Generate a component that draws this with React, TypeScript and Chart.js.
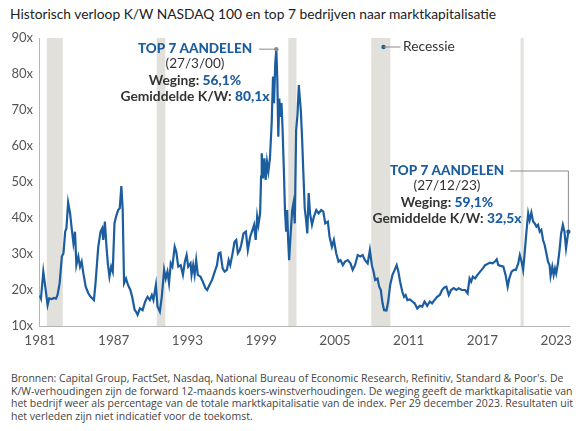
import React, { useEffect, useRef } from "react";
import { Chart, registerables } from "chart.js";

Chart.register(...registerables);

const years: number[] = [
  1981.0, 1981.08, 1981.27, 1981.43, 1981.62, 1981.75, 1981.95, 1982.15, 1982.3, 1982.43,
  1982.6, 1982.78, 1982.91, 1983.05, 1983.15, 1983.29, 1983.45, 1983.58, 1983.72, 1983.85,
  1983.96, 1984.12, 1984.26, 1984.39, 1984.53, 1984.72, 1984.93, 1985.12, 1985.39, 1985.52,
  1985.74, 1985.93, 1986.06, 1986.15, 1986.28, 1986.41, 1986.52, 1986.65, 1986.79, 1986.92,
  1987.06, 1987.19, 1987.36, 1987.49, 1987.62, 1987.73, 1987.84, 1988.0, 1988.16, 1988.35,
  1988.5, 1988.7, 1988.81, 1988.94, 1989.13, 1989.35, 1989.56, 1989.75, 1989.94, 1990.1,
  1990.23, 1990.43, 1990.56, 1990.75, 1990.91, 1991.1, 1991.23, 1991.37, 1991.5, 1991.64,
  1991.77, 1991.96, 1992.09, 1992.25, 1992.45, 1992.63, 1992.79, 1992.93, 1993.06, 1993.25,
  1993.33, 1993.46, 1993.58, 1993.71, 1993.84, 1994.06, 1994.25, 1994.46, 1994.6, 1994.79,
  1995.0, 1995.22, 1995.4, 1995.54, 1995.68, 1995.86, 1996.02, 1996.21, 1996.35, 1996.48,
  1996.67, 1996.83, 1996.97, 1997.1, 1997.25, 1997.37, 1997.56, 1997.75, 1997.91, 1998.1,
  1998.29, 1998.42, 1998.55, 1998.67, 1998.77, 1998.91, 1998.99, 1999.04, 1999.15, 1999.26,
  1999.36, 1999.47, 1999.58, 1999.71, 1999.85, 1999.96, 2000.04, 2000.14, 2000.23, 2000.31,
  2000.39, 2000.47, 2000.55, 2000.65, 2000.73, 2000.85, 2000.93, 2001.03, 2001.11, 2001.19,
  2001.27, 2001.38, 2001.52, 2001.62, 2001.73, 2001.84, 2001.95, 2002.06, 2002.14, 2002.22,
  2002.33, 2002.43, 2002.54, 2002.65, 2002.75, 2002.86, 2002.97, 2003.13, 2003.29, 2003.48,
  2003.67, 2003.88, 2004.05, 2004.21, 2004.42, 2004.56, 2004.75, 2004.91, 2005.1, 2005.29,
  2005.45, 2005.64, 2005.82, 2006.04, 2006.26, 2006.44, 2006.63, 2006.85, 2007.07, 2007.25,
  2007.44, 2007.66, 2007.84, 2008.0, 2008.14, 2008.27, 2008.46, 2008.6, 2008.73, 2008.87,
  2009.0, 2009.19, 2009.33, 2009.49, 2009.68, 2009.86, 2010.02, 2010.16, 2010.3, 2010.48,
  2010.62, 2010.75, 2010.89, 2011.1, 2011.29, 2011.48, 2011.69, 2011.91, 2012.1, 2012.29,
  2012.5, 2012.72, 2012.9, 2013.09, 2013.31, 2013.53, 2013.71, 2013.9, 2014.06, 2014.26,
  2014.44, 2014.66, 2014.87, 2015.06, 2015.33, 2015.6, 2015.79, 2015.95, 2016.08, 2016.22,
  2016.4, 2016.6, 2016.81, 2017.03, 2017.21, 2017.4, 2017.62, 2017.83, 2018.02, 2018.16,
  2018.29, 2018.48, 2018.7, 2018.88, 2019.05, 2019.18, 2019.37, 2019.56, 2019.72, 2019.91,
  2020.04, 2020.18, 2020.31, 2020.44, 2020.58, 2020.72, 2020.84, 2020.98, 2021.12, 2021.25,
  2021.39, 2021.52, 2021.66, 2021.79, 2021.93, 2022.06, 2022.2, 2022.33, 2022.46, 2022.54,
  2022.68, 2022.79, 2022.9, 2023.0, 2023.14, 2023.27, 2023.4, 2023.54, 2023.67, 2023.8,
  2023.93, 2023.99,
];

const peRatios: number[] = [
  18.5, 17.7, 25.1, 20.9, 15.8, 17.7, 17.5, 17.8, 17.6, 18.6,
  21.9, 29.3, 30.2, 36.2, 37.1, 44.3, 41.3, 37.1, 33.0, 36.2,
  26.9, 29.3, 26.5, 27.9, 24.6, 20.9, 19.1, 18.1, 17.2, 21.9,
  32.0, 36.2, 37.1, 33.9, 39.0, 32.0, 27.4, 23.7, 26.5, 25.1,
  38.5, 40.4, 42.2, 42.7, 48.9, 42.2, 21.9, 23.2, 21.4, 20.0,
  18.1, 14.5, 14.0, 13.1, 14.9, 14.4, 16.8, 18.1, 17.2, 18.6,
  17.2, 21.4, 15.4, 14.0, 18.1, 25.6, 23.2, 25.1, 21.9, 27.4,
  26.5, 32.0, 30.6, 26.5, 26.9, 24.2, 27.9, 29.7, 26.5, 27.4,
  24.2, 26.9, 24.2, 28.3, 24.2, 23.7, 22.3, 20.5, 20.0, 21.4,
  22.8, 25.1, 26.9, 30.2, 30.4, 26.0, 25.1, 25.6, 28.3, 26.9,
  30.2, 33.4, 33.9, 30.2, 31.0, 32.5, 35.7, 36.2, 31.1, 34.8,
  36.7, 38.1, 33.9, 40.4, 38.1, 41.3, 51.5, 58.0, 51.0, 56.6,
  50.6, 55.6, 52.9, 56.6, 66.3, 79.3, 71.9, 83.0, 86.9, 78.3,
  62.6, 73.2, 68.1, 71.9, 65.4, 52.4, 42.2, 36.2, 42.2, 33.9,
  28.3, 34.8, 42.2, 44.1, 38.5, 64.4, 68.6, 76.9, 73.2, 70.0,
  61.7, 52.4, 42.7, 39.4, 35.7, 46.9, 41.3, 38.1, 40.4, 42.2,
  41.3, 42.2, 41.8, 38.5, 39.0, 34.8, 32.0, 33.9, 30.2, 27.9,
  28.3, 26.9, 27.9, 28.3, 27.4, 25.6, 26.9, 29.7, 29.3, 29.7,
  28.3, 27.4, 31.1, 26.9, 25.1, 22.8, 23.2, 20.9, 20.0, 16.3,
  14.4, 14.3, 16.8, 21.4, 24.2, 25.6, 26.9, 25.1, 22.3, 19.5,
  18.1, 18.6, 17.2, 17.4, 16.8, 16.3, 14.9, 15.6, 15.4, 16.8,
  15.6, 16.8, 16.3, 17.2, 18.1, 18.6, 20.0, 20.7, 20.9, 18.6,
  20.0, 20.5, 20.0, 20.5, 20.0, 20.0, 19.1, 23.2, 22.3, 23.7,
  23.2, 24.2, 25.1, 26.0, 26.9, 27.2, 27.6, 27.4, 27.9, 28.5,
  26.9, 26.7, 26.5, 24.2, 20.9, 23.2, 25.1, 25.6, 25.6, 27.4,
  29.7, 27.9, 25.6, 30.6, 36.2, 41.3, 39.4, 41.5, 39.0, 38.5,
  37.6, 38.1, 36.2, 36.7, 33.9, 32.5, 30.2, 27.9, 26.9, 23.9,
  26.5, 24.2, 26.0, 24.6, 27.4, 31.1, 35.7, 38.1, 36.2, 31.6,
  34.8, 36.2,
];

const tickYears: number[] = [1981, 1987, 1993, 1999, 2005, 2011, 2017, 2023];

const recessionStarts: number[] = [1981.55, 1990.5, 2001.2, 2007.95, 2020.1];
const recessionEnds: number[] = [1982.85, 1991.2, 2001.87, 2009.5, 2020.35];

const peak2000 = { x: 2000.23, y: 86.9 };
const end2023 = { x: 2023.99, y: 36.2 };

const BLUE = "#1b5d9e";
const DARK = "#333333";
const GREYLINE = "#8a8a8a";
const FONT = "Lato, 'Open Sans', sans-serif";

const title = "Historisch verloop K/W NASDAQ 100 en top 7 bedrijven naar marktkapitalisatie";
const footerLines: string[] = [
  "Bronnen: Capital Group, FactSet, Nasdaq, National Bureau of Economic Research, Refinitiv, Standard & Poor's. De",
  "K/W-verhoudingen zijn de forward 12-maands koers-winstverhoudingen. De weging geeft de marktkapitalisatie van",
  "het bedrijf weer als percentage van de totale marktkapitalisatie van de index. Per 29 december 2023. Resultaten uit",
  "het verleden zijn niet indicatief voor de toekomst.",
];

function drawMixed(
  ctx: CanvasRenderingContext2D,
  cx: number,
  y: number,
  parts: { t: string; c: string; w: string }[],
  size: number
) {
  let total = 0;
  const widths = parts.map((p) => {
    ctx.font = `${p.w} ${size}px ${FONT}`;
    const w = ctx.measureText(p.t).width;
    total += w;
    return w;
  });
  let x = cx - total / 2;
  parts.forEach((p, i) => {
    ctx.font = `${p.w} ${size}px ${FONT}`;
    ctx.fillStyle = p.c;
    ctx.textAlign = "left";
    ctx.textBaseline = "middle";
    ctx.fillText(p.t, x, y);
    x += widths[i];
  });
  return { left: cx - total / 2, right: cx + total / 2 };
}

const recessionPlugin = {
  id: "recessions",
  beforeDatasetsDraw(chart: any) {
    const { ctx, chartArea, scales } = chart;
    const xs = scales.x;
    ctx.save();
    ctx.fillStyle = "#e2e0db";
    recessionStarts.forEach((s, i) => {
      const x0 = xs.getPixelForValue(s);
      const x1 = xs.getPixelForValue(recessionEnds[i]);
      ctx.fillRect(x0, chartArea.top, Math.max(x1 - x0, 3), chartArea.bottom - chartArea.top);
    });
    ctx.restore();
  },
};

const annotationPlugin = {
  id: "annots",
  afterDatasetsDraw(chart: any) {
    const { ctx, scales } = chart;
    const xs = scales.x;
    const ys = scales.y;
    ctx.save();

    // Annotation 2000
    const p1x = xs.getPixelForValue(peak2000.x);
    const p1y = ys.getPixelForValue(peak2000.y);
    const cx1 = 195;
    const r1 = drawMixed(ctx, cx1, 49, [{ t: "TOP 7 AANDELEN", c: BLUE, w: "900" }], 13.5);
    drawMixed(ctx, cx1, 64, [{ t: "(27/3/00)", c: DARK, w: "normal" }], 13.6);
    drawMixed(ctx, cx1, 81, [
      { t: "Weging: ", c: DARK, w: "bold" },
      { t: "56,1%", c: BLUE, w: "900" },
    ], 13.8);
    drawMixed(ctx, cx1, 97, [
      { t: "Gemiddelde K/W: ", c: DARK, w: "bold" },
      { t: "80,1x", c: BLUE, w: "900" },
    ], 13.8);
    ctx.strokeStyle = GREYLINE;
    ctx.lineWidth = 1;
    ctx.beginPath();
    ctx.moveTo(r1.right + 7, p1y);
    ctx.lineTo(p1x, p1y);
    ctx.stroke();
    ctx.fillStyle = GREYLINE;
    ctx.beginPath();
    ctx.arc(p1x, p1y, 2.2, 0, Math.PI * 2);
    ctx.fill();

    // Annotation 2023
    const p2x = xs.getPixelForValue(end2023.x);
    const p2y = ys.getPixelForValue(end2023.y);
    const cx2 = 447;
    const r2 = drawMixed(ctx, cx2, 171, [{ t: "TOP 7 AANDELEN", c: BLUE, w: "900" }], 13.5);
    drawMixed(ctx, cx2, 186, [{ t: "(27/12/23)", c: DARK, w: "normal" }], 13.6);
    drawMixed(ctx, cx2, 203, [
      { t: "Weging: ", c: DARK, w: "bold" },
      { t: "59,1%", c: BLUE, w: "900" },
    ], 13.8);
    drawMixed(ctx, cx2, 218.5, [
      { t: "Gemiddelde K/W: ", c: DARK, w: "bold" },
      { t: "32,5x", c: BLUE, w: "900" },
    ], 13.8);
    ctx.strokeStyle = GREYLINE;
    ctx.beginPath();
    ctx.moveTo(r2.right + 6, 171);
    ctx.lineTo(p2x, 171);
    ctx.lineTo(p2x, p2y);
    ctx.stroke();
    ctx.beginPath();
    ctx.arc(p2x, p2y, 2.2, 0, Math.PI * 2);
    ctx.fill();

    // Recession legend
    const lx = xs.getPixelForValue(2008.95);
    const ly = 47;
    ctx.beginPath();
    ctx.arc(lx, ly, 2.2, 0, Math.PI * 2);
    ctx.fill();
    ctx.beginPath();
    ctx.moveTo(lx, ly);
    ctx.lineTo(lx + 17, ly);
    ctx.stroke();
    ctx.font = `normal 13.8px ${FONT}`;
    ctx.fillStyle = DARK;
    ctx.textAlign = "left";
    ctx.textBaseline = "middle";
    ctx.fillText("Recessie", lx + 19.5, ly);

    ctx.restore();
  },
};

export default function App() {
  const canvasRef = useRef<HTMLCanvasElement | null>(null);

  useEffect(() => {
    document.body.style.margin = "0";
    const canvas = canvasRef.current;
    if (!canvas) return;
    const points = years.map((x, i) => ({ x, y: peRatios[i] }));
    const chart = new Chart(canvas, {
      type: "line",
      data: {
        datasets: [
          {
            data: points,
            borderColor: BLUE,
            borderWidth: 2.2,
            pointRadius: 0,
            tension: 0,
            fill: false,
          },
        ],
      },
      options: {
        animation: false,
        responsive: false,
        layout: { padding: { top: 38, right: 5, left: 0, bottom: 0 } },
        plugins: {
          legend: { display: false },
          tooltip: { enabled: false },
        },
        scales: {
          x: {
            type: "linear",
            min: 1980.92,
            max: 2024.1,
            afterBuildTicks: (s: any) => {
              s.ticks = tickYears.map((v) => ({ value: v }));
            },
            afterFit: (s: any) => {
              s.height = 24;
            },
            grid: { display: true, drawOnChartArea: false, drawTicks: false },
            border: { display: true, color: "#b5b5b5", width: 1 },
            ticks: {
              padding: 7,
              color: "#555555",
              font: { family: FONT, size: 13.5 },
              maxRotation: 0,
              autoSkip: false,
              callback: (v: any) => String(v),
            },
          },
          y: {
            min: 10,
            max: 90,
            afterFit: (s: any) => {
              s.width = 39;
            },
            grid: { display: true, drawOnChartArea: false, drawTicks: false },
            border: { display: true, color: "#b5b5b5", width: 1 },
            ticks: {
              stepSize: 10,
              padding: 6,
              color: "#555555",
              font: { family: FONT, size: 13 },
              callback: (v: any) => `${v}x`,
            },
          },
        },
      },
      plugins: [recessionPlugin, annotationPlugin],
    });
    return () => chart.destroy();
  }, []);

  return (
    <div style={{ position: "relative", width: 579, height: 431, background: "#fff", overflow: "hidden" }}>
      <div
        style={{
          position: "absolute",
          left: 10,
          top: 5,
          fontFamily: FONT,
          fontSize: 13.8,
          color: "#222",
          whiteSpace: "nowrap",
          lineHeight: "18px",
        }}
      >
        {title}
      </div>
      <canvas
        ref={canvasRef}
        width={579}
        height={350}
        style={{ position: "absolute", left: 0, top: 0, width: 579, height: 350 }}
      />
      <div
        style={{
          position: "absolute",
          left: 11,
          top: 372,
          fontFamily: "'Open Sans', sans-serif",
          fontSize: 10.5,
          color: "#444",
          lineHeight: "12.6px",
          whiteSpace: "nowrap",
        }}
      >
        {footerLines.map((l, i) => (
          <div key={i}>{l}</div>
        ))}
      </div>
    </div>
  );
}
